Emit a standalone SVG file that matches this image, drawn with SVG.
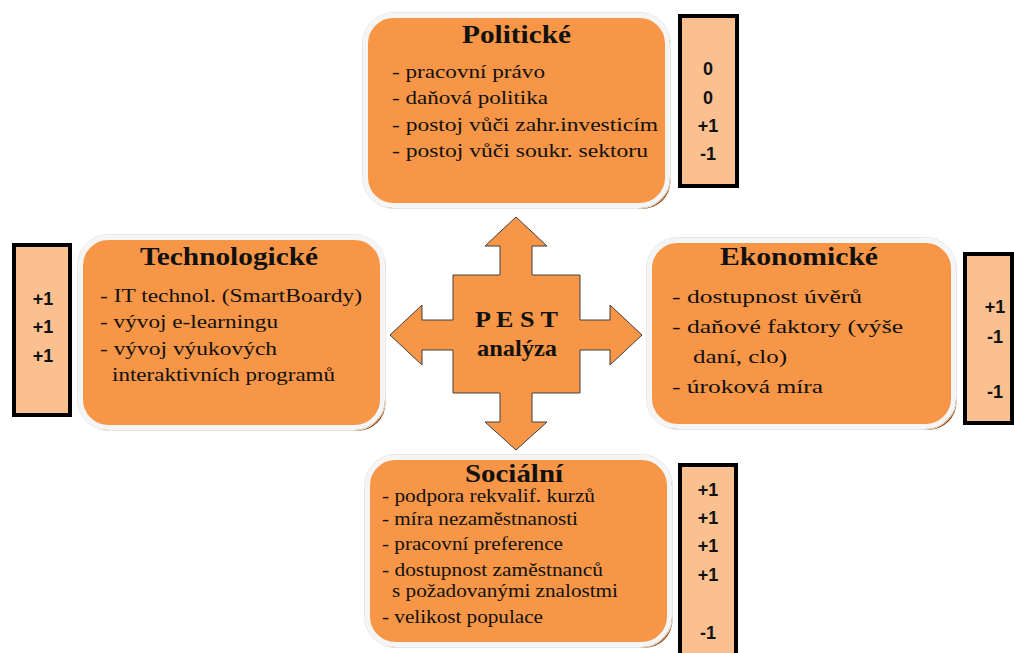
<svg xmlns="http://www.w3.org/2000/svg" width="1014" height="653" viewBox="0 0 1014 653">
<style>
.shadow{fill:#984807}
.box{fill:#F79646;stroke:#F5F5F5;stroke-width:5}
.edge{fill:none;stroke:#E6E6E6;stroke-width:1}
.score{fill:#FAC090;stroke:#000;stroke-width:4}
.title{font-family:"Liberation Serif",serif;font-weight:bold;font-size:26px;fill:#111}
.item{font-family:"Liberation Serif",serif;font-size:19px;fill:#111}
.sitem{font-family:"Liberation Serif",serif;font-size:18px;fill:#111}
.val{font-family:"Liberation Sans",Arial,sans-serif;font-weight:bold;font-size:18px;fill:#111;text-anchor:middle}
.cross{fill:#F79646;stroke:#3F3F3F;stroke-width:1}
.center{font-family:"Liberation Serif",serif;font-weight:bold;font-size:23px;fill:#111}
</style>
<rect width="1014" height="653" fill="#fff"/>
<g id="connectors"></g>

<g id="pest">
<polygon class="cross" points="516,217 547,246 532,246 532,275 580,275 580,320 610,320 610,305 642,335 610,365 610,350 580,350 580,393 532,393 532,422 547,422 516,450 485,422 500,422 500,393 453,393 453,350 422,350 422,365 390,335 422,305 422,320 453,320 453,275 500,275 500,246 485,246"/>
<text class="center" x="475" y="327" textLength="83" lengthAdjust="spacingAndGlyphs">P E S T</text>
<text class="center" x="477" y="356" textLength="80" lengthAdjust="spacingAndGlyphs">analýza</text>
</g>

<g id="politicke">
<rect class="shadow" x="368.5" y="19" width="302" height="190" rx="28"/>
<rect class="edge" x="362.5" y="12.5" width="308" height="196" rx="31"/>
<rect class="box" x="365.5" y="15.5" width="302" height="190" rx="28"/>
<text class="title" x="462" y="43" textLength="109" lengthAdjust="spacingAndGlyphs">Politické</text>
<text class="item" x="392" y="78" textLength="153" lengthAdjust="spacingAndGlyphs">- pracovní právo</text>
<text class="item" x="392" y="104" textLength="156" lengthAdjust="spacingAndGlyphs">- daňová politika</text>
<text class="item" x="392" y="130.5" textLength="266" lengthAdjust="spacingAndGlyphs">- postoj vůči zahr.investicím</text>
<text class="item" x="392" y="157" textLength="256" lengthAdjust="spacingAndGlyphs">- postoj vůči soukr. sektoru</text>
</g>
<g id="politicke-score">
<rect class="score" x="680" y="16" width="57" height="170"/>
<text class="val" x="708" y="75">0</text>
<text class="val" x="708" y="104">0</text>
<text class="val" x="708" y="132">+1</text>
<text class="val" x="708" y="160">-1</text>
</g>

<g id="technologicke">
<rect class="shadow" x="83.5" y="241" width="302" height="190" rx="28"/>
<rect class="edge" x="77.5" y="234.5" width="308" height="196" rx="31"/>
<rect class="box" x="80.5" y="237.5" width="302" height="190" rx="28"/>
<text class="title" x="140" y="265" textLength="178" lengthAdjust="spacingAndGlyphs">Technologické</text>
<text class="item" x="100" y="302" textLength="262" lengthAdjust="spacingAndGlyphs">- IT technol. (SmartBoardy)</text>
<text class="item" x="100" y="328" textLength="178" lengthAdjust="spacingAndGlyphs">- vývoj e-learningu</text>
<text class="item" x="100" y="355" textLength="177" lengthAdjust="spacingAndGlyphs">- vývoj výukových</text>
<text class="item" x="112" y="381" textLength="223" lengthAdjust="spacingAndGlyphs">interaktivních programů</text>
</g>
<g id="technologicke-score">
<rect class="score" x="14" y="245" width="56" height="170"/>
<text class="val" x="43" y="305">+1</text>
<text class="val" x="43" y="333">+1</text>
<text class="val" x="43" y="362">+1</text>
</g>

<g id="ekonomicke">
<rect class="shadow" x="652.5" y="244" width="304" height="186" rx="28"/>
<rect class="edge" x="646.5" y="237.5" width="310" height="192" rx="31"/>
<rect class="box" x="649.5" y="240.5" width="304" height="186" rx="28"/>
<text class="title" x="720" y="265" textLength="158" lengthAdjust="spacingAndGlyphs">Ekonomické</text>
<text class="item" x="672" y="303" textLength="190" lengthAdjust="spacingAndGlyphs">- dostupnost úvěrů</text>
<text class="item" x="672" y="333" textLength="231" lengthAdjust="spacingAndGlyphs">- daňové faktory (výše</text>
<text class="item" x="693" y="363" textLength="94" lengthAdjust="spacingAndGlyphs">daní, clo)</text>
<text class="item" x="672" y="393" textLength="151" lengthAdjust="spacingAndGlyphs">- úroková míra</text>
</g>
<g id="ekonomicke-score">
<rect class="score" x="965" y="254" width="47" height="169"/>
<text class="val" x="995" y="313">+1</text>
<text class="val" x="995" y="343">-1</text>
<text class="val" x="995" y="398">-1</text>
</g>

<g id="socialni">
<rect class="shadow" x="370.5" y="461" width="302" height="187" rx="28"/>
<rect class="edge" x="364.5" y="454.5" width="308" height="193" rx="31"/>
<rect class="box" x="367.5" y="457.5" width="302" height="187" rx="28"/>
<text class="title" x="465" y="482" textLength="98" lengthAdjust="spacingAndGlyphs">Sociální</text>
<text class="sitem" x="382" y="502" textLength="213" lengthAdjust="spacingAndGlyphs">- podpora rekvalif. kurzů</text>
<text class="sitem" x="382" y="525" textLength="196" lengthAdjust="spacingAndGlyphs">- míra nezaměstnanosti</text>
<text class="sitem" x="382" y="550" textLength="181" lengthAdjust="spacingAndGlyphs">- pracovní preference</text>
<text class="sitem" x="382" y="576" textLength="221" lengthAdjust="spacingAndGlyphs">- dostupnost zaměstnanců</text>
<text class="sitem" x="392" y="597" textLength="226" lengthAdjust="spacingAndGlyphs">s požadovanými znalostmi</text>
<text class="sitem" x="382" y="623" textLength="161" lengthAdjust="spacingAndGlyphs">- velikost populace</text>
</g>
<g id="socialni-score">
<rect class="score" x="680" y="465" width="56" height="200"/>
<text class="val" x="708" y="496">+1</text>
<text class="val" x="708" y="524">+1</text>
<text class="val" x="708" y="552">+1</text>
<text class="val" x="708" y="581">+1</text>
<text class="val" x="708" y="639">-1</text>
</g>
</svg>
